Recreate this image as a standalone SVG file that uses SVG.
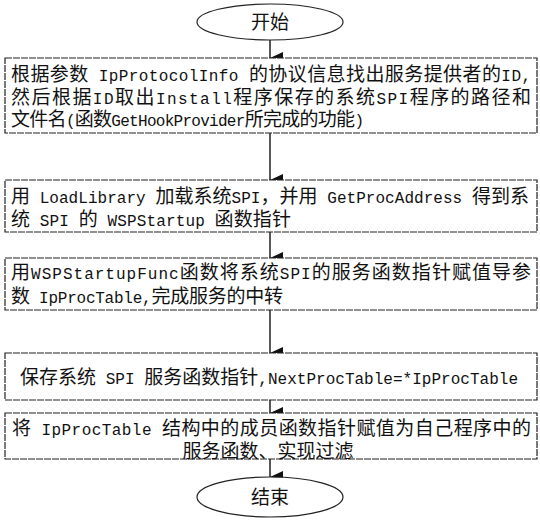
<svg xmlns="http://www.w3.org/2000/svg" width="540" height="525" viewBox="0 0 540 525">
<style>
.t{font-family:"Noto Sans CJK SC","Noto Sans CJK JP",sans-serif;font-size:19px;fill:#111}
.l{font-family:"Liberation Mono","DejaVu Sans Mono",monospace;font-size:16px}
.b{fill:#fff;stroke:#222;stroke-width:1.2;stroke-dasharray:7 1}
.e{fill:#fff;stroke:#222;stroke-width:1.2}
.c{stroke:#111;stroke-width:1.4;fill:none}
</style>
<defs>
<marker id="ah" viewBox="0 0 12 13" refX="6" refY="13" markerWidth="12" markerHeight="13" markerUnits="userSpaceOnUse" orient="auto-start-reverse">
<path d="M0,0 L12,0 L6,13 Z" fill="#111"/>
</marker>
</defs>
<g id="connectors">
<line class="c" x1="270" y1="40" x2="270" y2="58" marker-end="url(#ah)"/>
<line class="c" x1="270" y1="133" x2="270" y2="180" marker-end="url(#ah)"/>
<line class="c" x1="270" y1="232" x2="270" y2="258" marker-end="url(#ah)"/>
<line class="c" x1="270" y1="310" x2="270" y2="353" marker-end="url(#ah)"/>
<line class="c" x1="270" y1="400" x2="270" y2="413" marker-end="url(#ah)"/>
<line class="c" x1="270" y1="459" x2="270" y2="477" marker-end="url(#ah)"/>
</g>
<g id="start">
<ellipse class="e" cx="270" cy="22" rx="73" ry="18"/>
<text class="t" x="270" y="29" text-anchor="middle">开始</text>
</g>
<g id="step1">
<rect class="b" x="5" y="58" width="532" height="75"/>
<text class="t" x="11" y="81" textLength="520" lengthAdjust="spacing">根据参数<tspan class="l"> IpProtocolInfo </tspan>的协议信息找出服务提供者的<tspan class="l">ID,</tspan></text>
<text class="t" x="11" y="104" textLength="520" lengthAdjust="spacing">然后根据<tspan class="l">ID</tspan>取出<tspan class="l">Install</tspan>程序保存的系统<tspan class="l">SPI</tspan>程序的路径和</text>
<text class="t" x="11" y="126" textLength="353" lengthAdjust="spacing">文件名<tspan class="l">(</tspan>函数<tspan class="l">GetHookProvider</tspan>所完成的功能<tspan class="l">)</tspan></text>
</g>
<g id="step2">
<rect class="b" x="5" y="180" width="532" height="52"/>
<text class="t" x="11" y="203" textLength="518" lengthAdjust="spacing">用<tspan class="l"> LoadLibrary </tspan>加载系统<tspan class="l">SPI</tspan>，并用<tspan class="l"> GetProcAddress </tspan>得到系</text>
<text class="t" x="11" y="226" textLength="280" lengthAdjust="spacing">统<tspan class="l"> SPI </tspan>的<tspan class="l"> WSPStartup </tspan>函数指针</text>
</g>
<g id="step3">
<rect class="b" x="5" y="258" width="532" height="52"/>
<text class="t" x="11" y="279" textLength="520" lengthAdjust="spacing">用<tspan class="l">WSPStartupFunc</tspan>函数将系统<tspan class="l">SPI</tspan>的服务函数指针赋值导参</text>
<text class="t" x="11" y="303" textLength="272" lengthAdjust="spacing">数<tspan class="l"> IpProcTable,</tspan>完成服务的中转</text>
</g>
<g id="step4">
<rect class="b" x="5" y="353" width="532" height="47"/>
<text class="t" x="20" y="384" textLength="498" lengthAdjust="spacing">保存系统<tspan class="l"> SPI </tspan>服务函数指针<tspan class="l">,NextProcTable=*IpProcTable</tspan></text>
</g>
<g id="step5">
<rect class="b" x="5" y="413" width="532" height="46"/>
<text class="t" x="12" y="435" textLength="519" lengthAdjust="spacing">将<tspan class="l"> IpProcTable </tspan>结构中的成员函数指针赋值为自己程序中的</text>
<text class="t" x="268" y="458" text-anchor="middle">服务函数、实现过滤</text>
</g>
<g id="end">
<ellipse class="e" cx="270" cy="497" rx="73" ry="20"/>
<text class="t" x="270" y="504" text-anchor="middle">结束</text>
</g>
</svg>
